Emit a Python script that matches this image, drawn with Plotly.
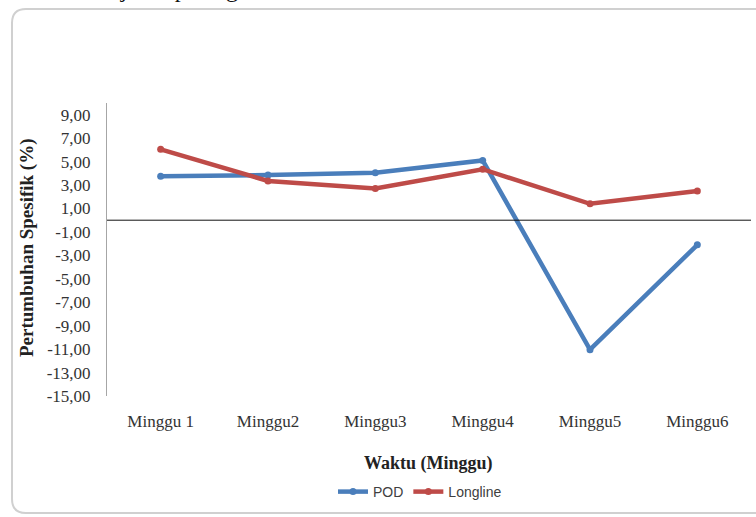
import plotly.graph_objects as go

# Weekly specific growth (%) for the two cultivation methods
weeks = ["Minggu 1", "Minggu2", "Minggu3", "Minggu4", "Minggu5", "Minggu6"]
pod = [3.75, 3.85, 4.05, 5.1, -11.05, -2.1]
longline = [6.05, 3.35, 2.7, 4.35, 1.4, 2.5]
y_ticks = [9, 7, 5, 3, 1, -1, -3, -5, -7, -9, -11, -13, -15]
y_tick_text = [f"{v:.2f}".replace(".", ",") for v in y_ticks]

W, H = 756, 517
L, R, T, B = 107, 5, 103, 121

BLUE = "#4a7ebb"
RED = "#be4b48"

fig = go.Figure()
fig.add_trace(go.Scatter(
    x=weeks, y=pod, name="POD", mode="lines+markers",
    line=dict(color=BLUE, width=4.5), marker=dict(size=7, color=BLUE),
))
fig.add_trace(go.Scatter(
    x=weeks, y=longline, name="Longline", mode="lines+markers",
    line=dict(color=RED, width=4.5), marker=dict(size=7, color=RED),
))

pw, ph = W - L - R, H - T - B


def px(x):
    return (x - L) / pw


def py(y):
    return (H - B - y) / ph


# rounded chart frame
x0, y0, x1, y1, r = px(12), py(9), px(770), py(513), 14
rx, ry = r / pw, r / ph
frame = (
    f"M {x0} {y1 + ry} L {x0} {y0 - ry} Q {x0} {y0} {x0 + rx} {y0} "
    f"L {x1 - rx} {y0} Q {x1} {y0} {x1} {y0 - ry} L {x1} {y1 + ry} "
    f"Q {x1} {y1} {x1 - rx} {y1} L {x0 + rx} {y1} Q {x0} {y1} {x0} {y1 + ry} Z"
)

fig.update_layout(
    width=W, height=H,
    margin=dict(l=L, r=R, t=T, b=B),
    paper_bgcolor="white", plot_bgcolor="white",
    showlegend=True,
    legend=dict(
        orientation="h", x=px(420), xanchor="center", y=py(492), yanchor="middle",
        font=dict(family="Liberation Sans Narrow, Liberation Sans", size=14, color="#404040"),
        itemwidth=30, tracegroupgap=0, bgcolor="rgba(0,0,0,0)",
    ),
    xaxis=dict(
        type="category", showgrid=False, zeroline=False, showline=False,
        ticks="outside", ticklen=10, tickcolor="rgba(0,0,0,0)",
        tickfont=dict(family="Liberation Serif", size=17, color="#333333"),
        range=[-0.5, 5.5],
    ),
    yaxis=dict(
        range=[-15, 10], tickvals=y_ticks, ticktext=y_tick_text,
        showgrid=False, zeroline=False,
        showline=True, linecolor="#a6a6a6", linewidth=1,
        ticks="outside", ticklen=12, tickcolor="rgba(0,0,0,0)",
        tickfont=dict(family="Liberation Serif", size=17, color="#333333"),
    ),
    shapes=[
        dict(type="path", xref="paper", yref="paper", path=frame,
             line=dict(color="#d0d0d0", width=2), layer="below"),
        dict(type="line", xref="paper", yref="y", x0=0, x1=1, y0=0, y1=0,
             line=dict(color="#111111", width=1)),
    ],
    annotations=[
        dict(text="<b>Waktu (Minggu)</b>", xref="paper", yref="paper",
             x=px(428), y=py(464), xanchor="center", yanchor="middle", showarrow=False,
             font=dict(family="Liberation Serif", size=18, color="#222222")),
        dict(text="<b>Pertumbuhan Spesifik (%)</b>", xref="paper", yref="paper",
             x=px(27), y=py(248), xanchor="center", yanchor="middle", showarrow=False,
             textangle=-90,
             font=dict(family="Liberation Serif", size=19, color="#222222")),
        dict(text="disajikan pada gambar 2.", xref="paper", yref="paper",
             x=px(80), y=py(4), xanchor="left", yanchor="bottom", showarrow=False,
             font=dict(family="Liberation Serif", size=24, color="#111111")),
    ],
)

fig.write_html("out.html")
